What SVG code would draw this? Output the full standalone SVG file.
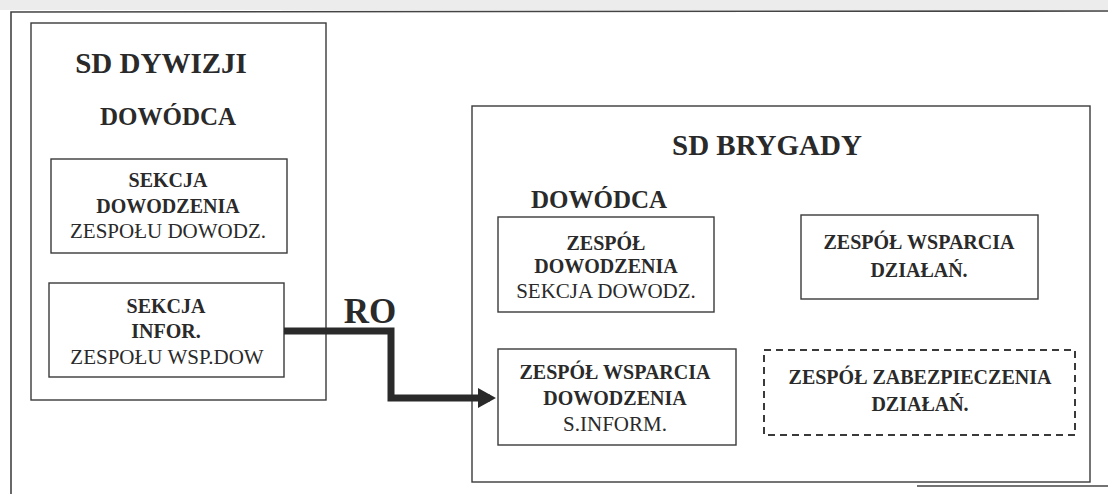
<svg xmlns="http://www.w3.org/2000/svg" width="1108" height="494" viewBox="0 0 1108 494" font-family="'Liberation Serif', 'Times New Roman', Times, serif">
  <style>
    .box { fill: none; stroke: #3a3a3a; stroke-width: 1.4; }
    .dash { fill: none; stroke: #3a3a3a; stroke-width: 2; stroke-dasharray: 7 5; }
    .frame { fill: none; stroke: #444; stroke-width: 1.6; }
    text { font-family: 'Liberation Serif', 'Times New Roman', Times, serif; fill: #2a2a2a; text-anchor: middle; }
    .b { font-weight: bold; }
    .t29 { font-size: 29px; }
    .t25 { font-size: 25px; }
    .t20 { font-size: 20px; }
    .t21 { font-size: 21px; }
    .conn { fill: none; stroke: #2a2a2a; stroke-width: 7; stroke-linejoin: miter; }
  </style>
  <defs>
    <marker id="arrow" markerWidth="4" markerHeight="4" refX="1.75" refY="2" orient="auto" markerUnits="strokeWidth">
      <path d="M0,0.55 L2.6,2 L0,3.45 z" fill="#2a2a2a"/>
    </marker>
  </defs>
  <rect x="0" y="0" width="1108" height="10" fill="#ececec"/>
  <g id="frame">
    <polyline class="frame" points="11,494 11,12 1108,11"/>
    <line class="frame" x1="917" y1="486" x2="1108" y2="486" stroke-width="2.2"/>
  </g>

  <g id="sd-dywizji">
    <rect class="box" x="31" y="23" width="295" height="377"/>
    <text class="b t29" x="161" y="73">SD DYWIZJI</text>
    <text class="b t25" x="168" y="125">DOWÓDCA</text>
  </g>
  <g id="sekcja-dowodzenia">
    <rect class="box" x="51" y="159" width="236" height="94"/>
    <text class="b t20" x="168" y="187">SEKCJA</text>
    <text class="b t20" x="168" y="213">DOWODZENIA</text>
    <text class="t21" x="168" y="238">ZESPOŁU DOWODZ.</text>
  </g>
  <g id="sekcja-infor">
    <rect class="box" x="49" y="283" width="235" height="94"/>
    <text class="b t20" x="166" y="313">SEKCJA</text>
    <text class="b t20" x="166" y="338">INFOR.</text>
    <text class="t21" x="167" y="364">ZESPOŁU WSP.DOW</text>
  </g>

  <g id="sd-brygady">
    <rect class="box" x="472" y="106" width="618" height="376"/>
    <text class="b t29" x="767" y="155">SD BRYGADY</text>
    <text class="b t25" x="599" y="208">DOWÓDCA</text>
  </g>
  <g id="zespol-dowodzenia">
    <rect class="box" x="498" y="217" width="216" height="95"/>
    <text class="b t20" x="606" y="250">ZESPÓŁ</text>
    <text class="b t20" x="606" y="273">DOWODZENIA</text>
    <text class="t21" x="606" y="298">SEKCJA DOWODZ.</text>
  </g>
  <g id="zespol-wsparcia-dzialan">
    <rect class="box" x="801" y="215" width="237" height="84"/>
    <text class="b t20" x="919" y="249">ZESPÓŁ WSPARCIA</text>
    <text class="b t20" x="919" y="277">DZIAŁAŃ.</text>
  </g>
  <g id="zespol-wsparcia-dowodzenia">
    <rect class="box" x="498" y="349" width="238" height="96"/>
    <text class="b t20" x="615" y="379">ZESPÓŁ WSPARCIA</text>
    <text class="b t20" x="615" y="405">DOWODZENIA</text>
    <text class="t21" x="615" y="431">S.INFORM.</text>
  </g>
  <g id="zespol-zabezpieczenia">
    <rect class="dash" x="764" y="350" width="311" height="85"/>
    <text class="b t20" x="920" y="384">ZESPÓŁ ZABEZPIECZENIA</text>
    <text class="b t20" x="920" y="411">DZIAŁAŃ.</text>
  </g>

  <g id="connectors">
    <polyline class="conn" points="284,331 391,331 391,398 490,398" marker-end="url(#arrow)"/>
    <text class="b" x="370" y="323" style="font-size:35px">RO</text>
  </g>
</svg>
